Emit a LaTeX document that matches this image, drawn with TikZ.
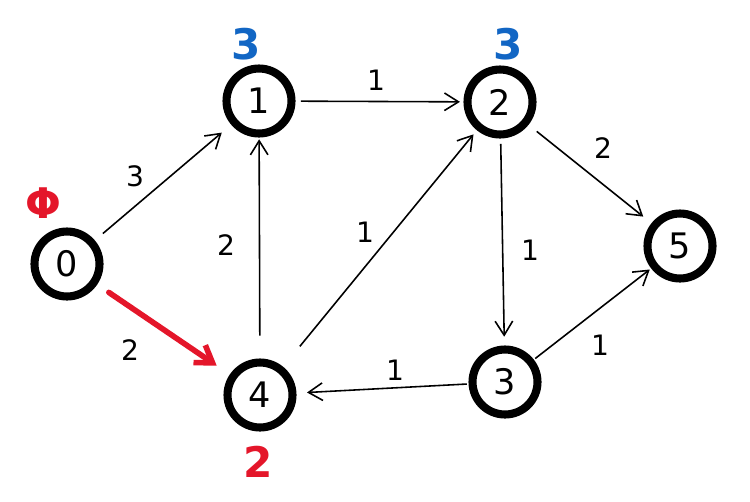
\documentclass[tikz,border=0pt]{standalone}
\usepackage{fontspec}
\setmainfont{DejaVu Sans}
\usepackage{tikz}
\usetikzlibrary{arrows.meta}
\definecolor{distblue}{RGB}{18,102,196}
\definecolor{pathred}{RGB}{228,22,42}

\begin{document}
\begin{tikzpicture}[x=0.02cm,y=-0.02cm,
  vertex/.style={circle,draw,line width=4.6pt,minimum size=1.3cm,inner sep=0pt,font=\fontsize{20}{20}\selectfont},
  arc/.style={-{Straight Barb[length=8pt,width=10pt]},line width=0.9pt},
  wt/.style={font=\fontsize{16}{16}\selectfont},
  dist/.style={font=\bfseries\fontsize{24}{24}\selectfont}]
  \useasboundingbox (0,0) rectangle (750,501);
  % ---- vertices ----
  \node[vertex] (v0) at (67,264) {0};
  \node[vertex] (v1) at (259,101) {1};
  \node[vertex] (v2) at (500,102) {2};
  \node[vertex] (v3) at (505,382) {3};
  \node[vertex] (v4) at (260,395) {4};
  \node[vertex] (v5) at (680,246) {5};
  % ---- arcs ----
  \draw[arc,shorten <=6pt,shorten >=7pt] (v0) -- (v1);
  \draw[arc,shorten <=3pt,shorten >=2pt] (v1) -- (v2);
  \draw[arc,shorten <=13pt,shorten >=1pt] (v4) -- (v1);
  \draw[arc,shorten <=15pt,shorten >=3pt] (v4) -- (v2);
  \draw[arc,shorten <=3pt,shorten >=5pt] (v2) -- (v3);
  \draw[arc,shorten <=6pt,shorten >=6pt] (v2) -- (v5);
  \draw[arc,shorten <=1pt,shorten >=1pt] (v3) -- (v5);
  \draw[arc,shorten <=1pt,shorten >=6pt] (v3) -- (v4);
  \draw[pathred,line width=3.2pt,line cap=round,-{Straight Barb[length=9pt,width=12pt]},
        shorten <=8pt,shorten >=9pt] (v0) -- (v4);
  % ---- weights ----
  \node[wt] (w01) at (135,176) {3};
  \node[wt] (w04) at (130,350) {2};
  \node[wt] (w12) at (376,80) {1};
  \node[wt] (w41) at (226,245) {2};
  \node[wt] (w42) at (365,232) {1};
  \node[wt] (w23) at (530,250) {1};
  \node[wt] (w25) at (603,148) {2};
  \node[wt] (w35) at (600,345) {1};
  \node[wt] (w34) at (395,370) {1};
  % ---- distances ----
  \node[dist,text=pathred] (d0) at (43,203) {Φ};
  \node[dist,text=distblue] (d1) at (246,44) {3};
  \node[dist,text=distblue] (d2) at (508,44) {3};
  \node[dist,text=pathred] (d4) at (258,462) {2};
\end{tikzpicture}
\end{document}
